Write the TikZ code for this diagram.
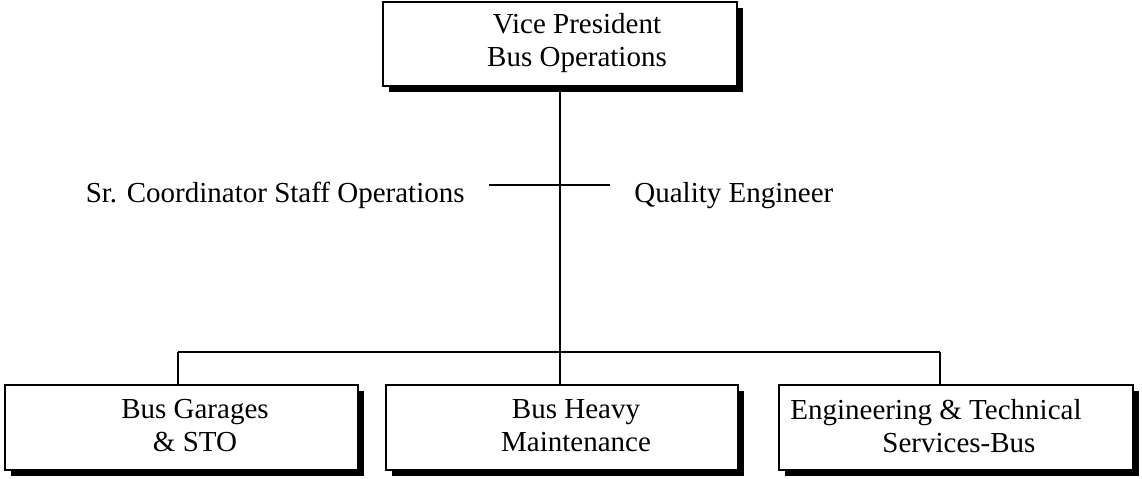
\documentclass[tikz,border=0pt]{standalone}
\usepackage{fontspec}
\setmainfont{Liberation Serif}
\usetikzlibrary{shadows}
\begin{document}
\begin{tikzpicture}[x=0.5pt,y=-0.5pt,
  box/.style={draw=black, line width=1pt, fill=white, anchor=north west, inner sep=0pt, outer sep=0pt,
    drop shadow={shadow xshift=3pt, shadow yshift=-3pt, fill=black, opacity=1}},
  txt/.style={inner sep=0pt, align=center, font=\fontsize{14.5}{16.5}\selectfont},
  conn/.style={draw=black, line width=0.9pt}]
\useasboundingbox (0,0) rectangle (1142,478);
% boxes
\node[box, minimum width=177pt, minimum height=42pt] (vp) at (383,2) {};
\node[box, minimum width=176.5pt, minimum height=42.5pt] (b1) at (5,385) {};
\node[box, minimum width=176pt, minimum height=42.5pt] (b2) at (386,385) {};
\node[box, minimum width=177pt, minimum height=42.5pt] (b3) at (779,385) {};
% texts
\node[txt] (vpt) at (577,43) {Vice President\\Bus Operations};
\node[txt] (b1t) at (195,426) {Bus Garages\\\& STO};
\node[txt] (b2t) at (576,426) {Bus Heavy\\Maintenance};
\node[txt, align=left, anchor=west] (b3t) at (790,426) {Engineering \& Technical\\\hspace*{46pt}Services-Bus};
\node[txt, anchor=base east] (sr) at (465,202) {Sr. Coordinator Staff Operations};
\node[txt, anchor=base west] (qe) at (634,202) {Quality Engineer};
% connectors
\coordinate (jl) at (178,352);
\coordinate (jr) at (940,352);
\coordinate (xl) at (489,185);
\coordinate (xr) at (610,185);
\draw[conn] (vp.south) -- (vp.south |- b2.north);
\draw[conn] (jl) -- (jr);
\draw[conn] (jl) -- (jl |- b1.north);
\draw[conn] (jr) -- (jr |- b3.north);
\draw[conn] (xl) -- (xr);
\end{tikzpicture}
\end{document}
